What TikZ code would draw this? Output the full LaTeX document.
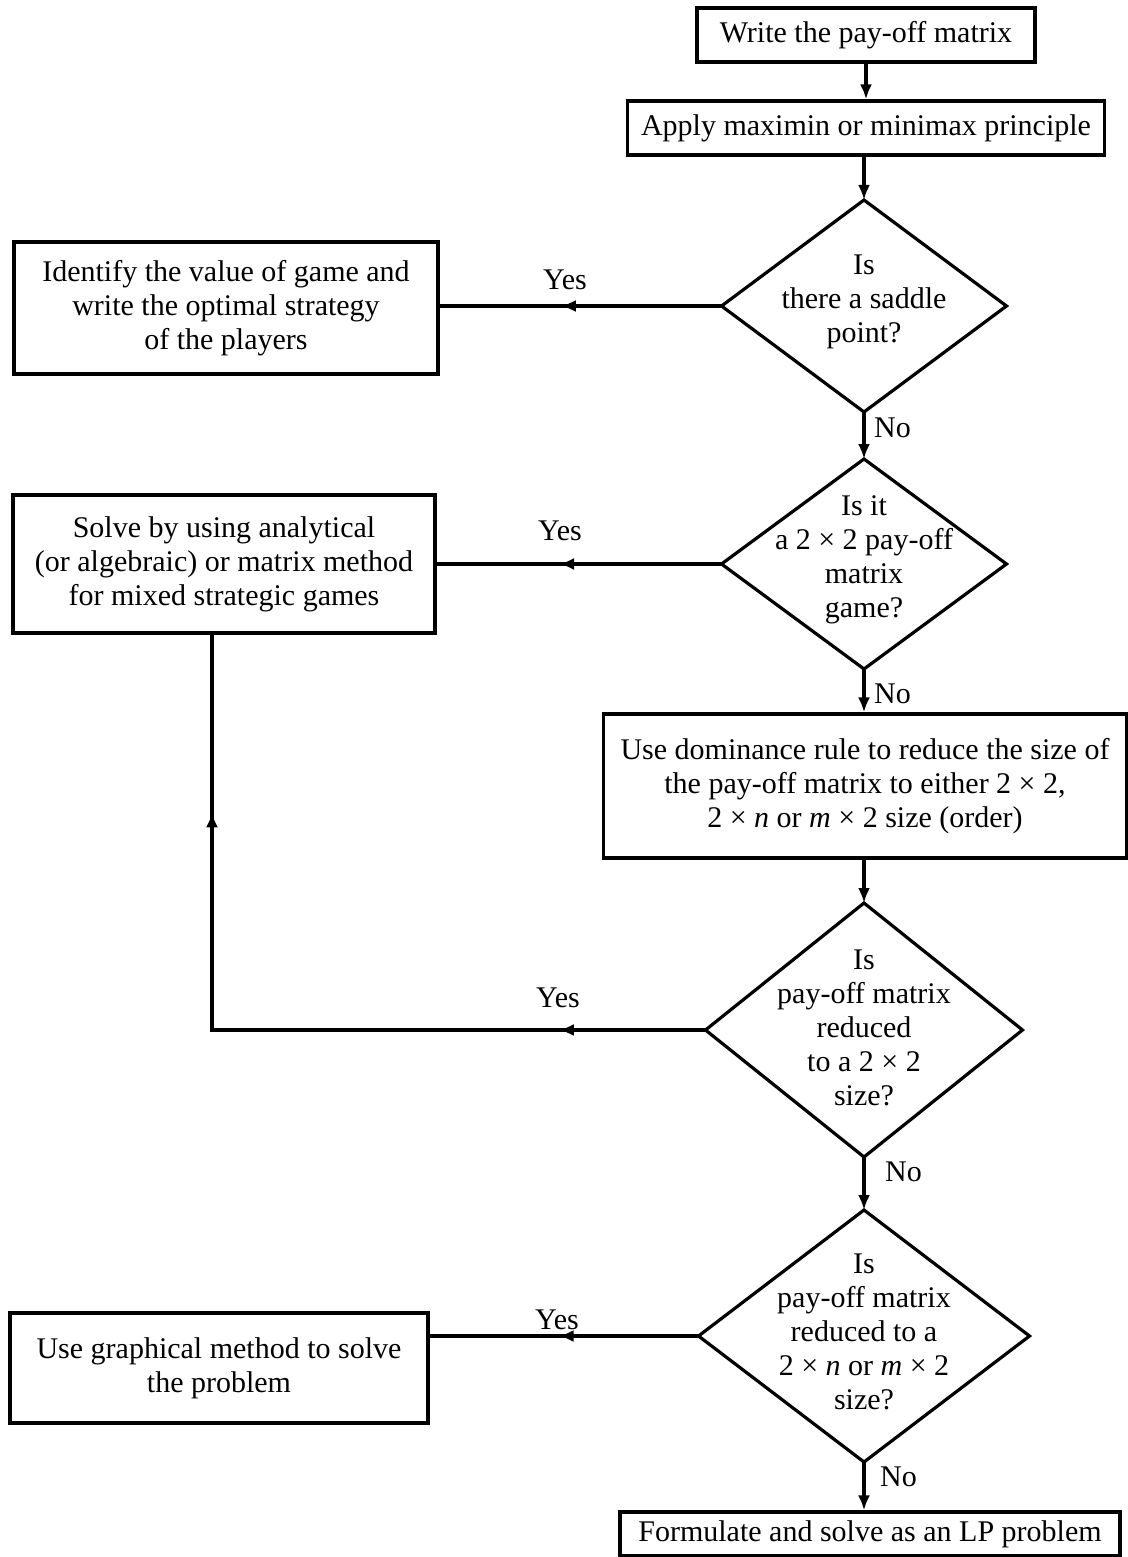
\documentclass[tikz,border=0pt]{standalone}
\usepackage{fontspec}
\setmainfont{Liberation Serif}
\usetikzlibrary{shapes.geometric,arrows.meta,decorations.markings}
\newcommand{\flowfont}{\fontsize{30}{34}\selectfont}
\begin{document}
\begin{tikzpicture}[x=1pt,y=-1pt,
  box/.style={draw, line width=3.2pt, rectangle, inner sep=1pt, align=center, font=\flowfont},
  dia/.style={draw, diamond, line width=3.2pt, inner sep=0pt, outer sep=0pt},
  lbl/.style={align=center, font=\flowfont, inner sep=0pt},
  yesno/.style={font=\flowfont, inner sep=0pt},
  flow/.style={line width=3.2pt},
  tipend/.style={-{Latex[length=15pt,width=12pt]}},
  midtip/.style={postaction={decorate}, decoration={markings,
      mark=at position #1 with {\arrow{Latex[length=15pt,width=12pt]}}}},
  twotips/.style 2 args={postaction={decorate}, decoration={markings,
      mark=at position #1 with {\arrow{Latex[length=15pt,width=12pt]}},
      mark=at position #2 with {\arrow{Latex[length=15pt,width=12pt]}}}}
]
\useasboundingbox (0,0) rectangle (1127,1557);

% main column
\node[box, minimum width=338pt, minimum height=54pt] (write) at (866,35) {Write the pay-off matrix};
\node[box, minimum width=477pt, minimum height=54pt] (apply) at (866,128) {Apply maximin or minimax principle};

\node[dia, minimum width=285pt, minimum height=212pt] (saddle) at (864,306) {};
\node[lbl] (saddleT) at (864,302) {Is\\there a saddle\\point?};

\node[dia, minimum width=285pt, minimum height=210pt] (twobytwo) at (864,564) {};
\node[lbl] (twobytwoT) at (864,560) {Is it\\a 2 × 2 pay-off\\matrix\\game?};

\node[box, minimum width=523pt, minimum height=144pt] (dominance) at (865,786)
  {Use dominance rule to reduce the size of\\the pay-off matrix to either 2 × 2,\\2 × \textit{n} or \textit{m} × 2 size (order)};

\node[dia, minimum width=317pt, minimum height=254pt] (reduced) at (864,1030) {};
\node[lbl] (reducedT) at (864,1028) {Is\\pay-off matrix\\reduced\\to a 2 × 2\\size?};

\node[dia, minimum width=331pt, minimum height=252pt] (reducedn) at (864,1336) {};
\node[lbl] (reducednT) at (864,1332) {Is\\pay-off matrix\\reduced to a\\2 × \textit{n} or \textit{m} × 2\\size?};

\node[box, minimum width=500pt, minimum height=44pt] (lp) at (870,1534) {Formulate and solve as an LP problem};

% left column
\node[box, minimum width=424pt, minimum height=132pt] (identify) at (226,308)
  {Identify the value of game and\\write the optimal strategy\\of the players};
\node[box, minimum width=422pt, minimum height=138pt] (solve) at (224,564)
  {Solve by using analytical\\(or algebraic) or matrix method\\for mixed strategic games};
\node[box, minimum width=418pt, minimum height=110pt] (graph) at (219,1368)
  {Use graphical method to solve\\the problem};

% connectors
\draw[flow, tipend] (write.south -| apply.north) -- (apply.north);
\draw[flow, tipend] (apply.south -| saddle.north) -- (saddle.north);
\draw[flow, tipend] (saddle.south) -- (twobytwo.north);
\draw[flow, tipend] (twobytwo.south) -- (dominance.north -| twobytwo.south);
\draw[flow, tipend] (dominance.south -| reduced.north) -- (reduced.north);
\draw[flow, tipend] (reduced.south) -- (reducedn.north);
\draw[flow, tipend] (reducedn.south) -- (lp.north -| reducedn.south);

\draw[flow, midtip=0.57] (saddle.west) -- (saddle.west -| identify.east);
\draw[flow, midtip=0.57] (twobytwo.west) -- (twobytwo.west -| solve.east);
\draw[flow, midtip=0.52] (reducedn.west) -- (reducedn.west -| graph.east);

% return branch from the 2 x 2 check back to the analytical method
\coordinate (turn) at (212,1030);
\draw[flow, line join=miter, twotips={0.165}{0.8}]
  (reduced.west) -- (turn) -- (turn |- solve.south);

% branch labels
\node[yesno] (y1) at (565,280) {Yes};
\node[yesno] (y2) at (560,531) {Yes};
\node[yesno] (y3) at (558,998) {Yes};
\node[yesno] (y4) at (557,1320) {Yes};
\node[yesno, anchor=west] (n1) at (874,428) {No};
\node[yesno, anchor=west] (n2) at (874,694) {No};
\node[yesno, anchor=west] (n3) at (885,1172) {No};
\node[yesno, anchor=west] (n4) at (880,1477) {No};
\end{tikzpicture}
\end{document}
